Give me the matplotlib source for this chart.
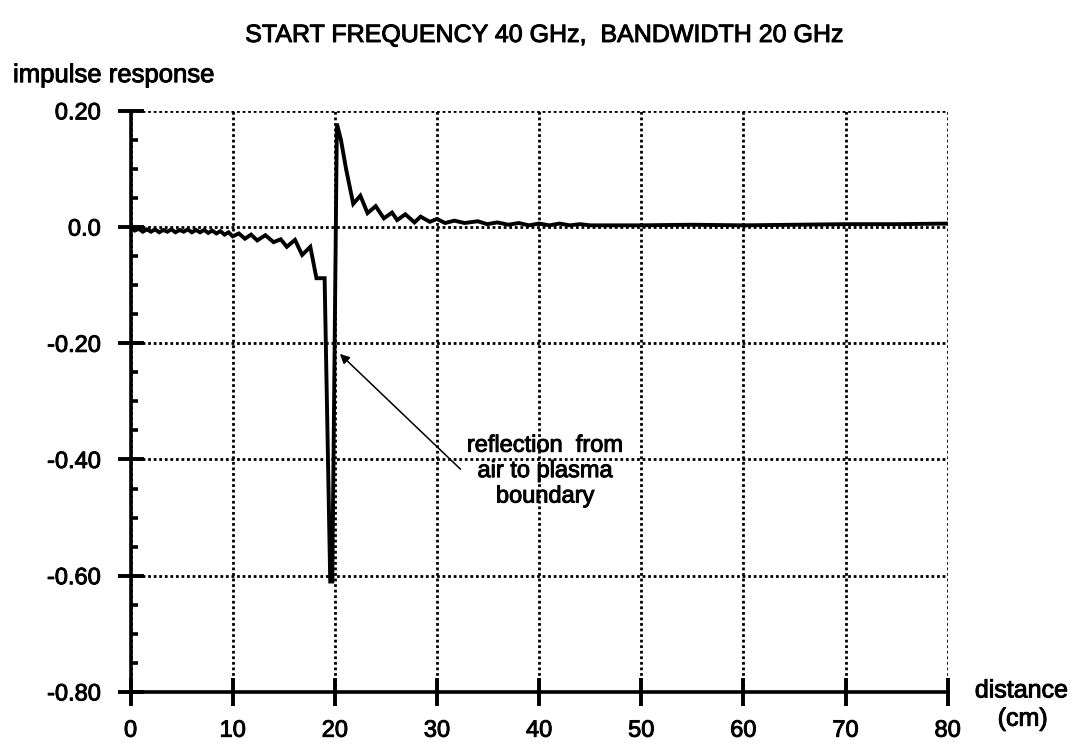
import matplotlib
matplotlib.use('Agg')
import matplotlib.pyplot as plt
import matplotlib.patheffects as pe
from matplotlib.ticker import MultipleLocator

plt.rcParams['font.family'] = ['Liberation Sans', 'DejaVu Sans']

# distance along the path (cm) and the impulse response read at each point
distance = [0.0, 0.4, 0.8, 1.2, 1.6, 2.0, 2.4, 2.8, 3.2, 3.6, 4.0, 4.4, 4.8,
            5.2, 5.6, 6.0, 6.4, 6.8, 7.2, 7.6, 8.0, 8.4, 8.8, 9.2, 9.6,
            10.0, 10.6, 11.2, 11.8, 12.4, 13.2, 14.0, 14.7, 15.3, 16.1, 16.8,
            17.6, 18.2, 19.0, 19.55, 19.75, 20.2, 20.6, 21.1, 21.8, 22.5,
            23.2, 24.0, 24.8, 25.6, 26.1, 26.9, 27.8, 28.4, 29.3, 30.0, 30.8,
            31.7, 32.7, 34.0, 34.9, 35.9, 37.0, 38.0, 39.0, 40.0, 41.0, 42.0,
            43.0, 44.0, 45.0, 50.0, 55.0, 60.0, 65.0, 70.0, 75.0, 80.0]
response = [0.0, -0.006, -0.003, -0.008, -0.004, -0.008, -0.004, -0.009,
            -0.005, -0.008, -0.004, -0.009, -0.005, -0.008, -0.004, -0.009,
            -0.005, -0.009, -0.005, -0.010, -0.006, -0.011, -0.007, -0.013,
            -0.009, -0.016, -0.011, -0.020, -0.013, -0.023, -0.014, -0.026,
            -0.021, -0.034, -0.022, -0.048, -0.034, -0.088, -0.088, -0.610,
            -0.610, 0.178, 0.150, 0.100, 0.040, 0.054, 0.024, 0.036, 0.015,
            0.025, 0.012, 0.022, 0.008, 0.018, 0.009, 0.014, 0.007, 0.011,
            0.007, 0.010, 0.005, 0.008, 0.004, 0.007, 0.003, 0.006, 0.003,
            0.006, 0.003, 0.005, 0.003, 0.003, 0.004, 0.003, 0.004, 0.005,
            0.005, 0.006]

x_ticks = [0, 10, 20, 30, 40, 50, 60, 70, 80]
y_ticks = [-0.8, -0.6, -0.4, -0.2, 0.0, 0.2]
y_tick_labels = ['-0.80', '-0.60', '-0.40', '-0.20', '0.0', '0.20']

# a thin outline thickens the glyphs a little, like print
heavy = [pe.withStroke(linewidth=0.7, foreground='black')]

fig = plt.figure(figsize=(10.88, 7.44), dpi=100)
ax = fig.add_axes([0.120, 0.070, 0.751, 0.781])

ax.plot(distance, response, color='black', lw=2.8, solid_joinstyle='miter')

ax.set_xlim(0, 80)
ax.set_ylim(-0.8, 0.2)
ax.set_xticks(x_ticks)
ax.set_xticklabels([str(v) for v in x_ticks])
ax.set_yticks(y_ticks)
ax.set_yticklabels(y_tick_labels)
ax.yaxis.set_minor_locator(MultipleLocator(0.05))

ax.grid(True, which='major', color='black', linestyle=(0, (1, 1.0)), lw=2.0)

for side in ['top', 'right']:
    ax.spines[side].set_visible(False)
for side in ['left', 'bottom']:
    ax.spines[side].set_linewidth(2.6)

ax.tick_params(axis='x', which='major', direction='inout', length=20, width=2.8,
               labelsize=17, pad=10)
ax.tick_params(axis='y', which='major', direction='inout', length=19, width=2.8,
               labelsize=17, pad=12)
ax.tick_params(axis='y', which='minor', direction='in', length=5, width=2.6)
for lab in ax.get_xticklabels() + ax.get_yticklabels():
    lab.set_path_effects(heavy)

ax.annotate('', xy=(20.3, -0.215), xytext=(32.5, -0.42),
            arrowprops=dict(arrowstyle='-|>', color='black', lw=1.1,
                            mutation_scale=14))
ax.text(40.6, -0.42, 'reflection  from\nair to plasma\nboundary',
        ha='center', va='center', fontsize=17, linespacing=1.2,
        path_effects=heavy)

fig.text(0.50, 0.953, 'START FREQUENCY 40 GHz,  BANDWIDTH 20 GHz',
         ha='center', va='center', fontsize=18, path_effects=heavy)
fig.text(0.012, 0.899, 'impulse response', ha='left', va='center',
         fontsize=18.5, path_effects=heavy)
fig.text(0.896, 0.072, 'distance', ha='left', va='center', fontsize=18,
         path_effects=heavy)
fig.text(0.917, 0.034, '(cm)', ha='left', va='center', fontsize=18,
         path_effects=heavy)

fig.savefig('out.png', dpi=100)
